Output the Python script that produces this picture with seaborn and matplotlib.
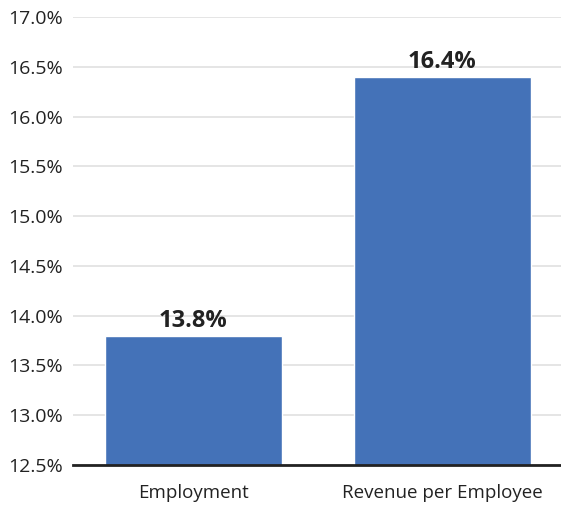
import matplotlib
matplotlib.use("Agg")
import matplotlib.pyplot as plt
import seaborn as sns
import pandas as pd
from matplotlib.ticker import FuncFormatter, MultipleLocator

categories = ["Employment", "Revenue per Employee"]
values = [13.8, 16.4]
labels = ["13.8%", "16.4%"]

sns.set_style("white")
plt.rcParams['font.family'] = ['Open Sans', 'DejaVu Sans']

df = pd.DataFrame({"cat": categories, "val": values})
fig = plt.figure(figsize=(5.61, 5.08), dpi=100)
ax = fig.add_axes([0.130, 0.0846, 0.870, 0.882])
sns.barplot(data=df, x="cat", y="val", color="#4472B8", width=0.71, saturation=1, ax=ax, zorder=3)

ax.set_ylim(12.5, 17.0)
ax.set_xlim(-0.484, 1.476)
ax.yaxis.set_major_locator(MultipleLocator(0.5))
ax.yaxis.set_major_formatter(FuncFormatter(lambda v, p: f"{v:.1f}%"))
ax.grid(axis="y", color="#dedede", linewidth=1.1, zorder=0)
ax.set_axisbelow(True)
for s in ["top", "right", "left"]:
    ax.spines[s].set_visible(False)
ax.spines["bottom"].set_color("#222222")
ax.spines["bottom"].set_linewidth(2)
ax.spines["bottom"].set_zorder(5)
ax.tick_params(axis="y", length=0, labelsize=14, colors="#222222", pad=7)
ax.tick_params(axis="x", length=0, labelsize=13.5, colors="#222222", pad=14)
ax.set_xlabel("")
ax.set_ylabel("")

for i, (v, t) in enumerate(zip(values, labels)):
    ax.text(i, v + 0.03, t, ha="center", va="bottom", fontsize=17, fontweight="bold", color="#222222")

fig.savefig("out.png", dpi=100)
